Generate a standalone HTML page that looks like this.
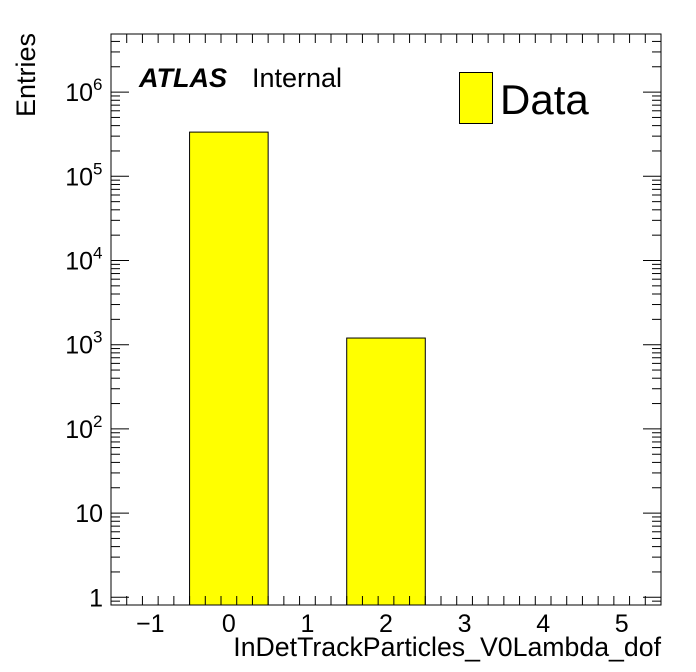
<!DOCTYPE html>
<html><head><meta charset="utf-8"><style>
html,body{margin:0;padding:0;background:#fff;}
svg{display:block;font-family:"Liberation Sans",Arial,sans-serif;}
</style></head><body>
<svg id="chart" width="696" height="672" viewBox="0 0 696 672" xmlns="http://www.w3.org/2000/svg">
<rect x="0" y="0" width="696" height="672" fill="#fff"/>
<g id="bars"></g>
<g id="ticks"></g>
<rect x="111" y="34" width="550" height="571" fill="none" stroke="#000" stroke-width="1"/>
<g id="labels" font-size="25"></g>
<text transform="translate(35,117) rotate(-90)" font-size="27">Entries</text>
<text x="661" y="656" text-anchor="end" font-size="26.7">InDetTrackParticles_V0Lambda_dof</text>
<text x="139" y="87" font-size="27" font-weight="bold" font-style="italic">ATLAS</text>
<text x="252" y="87" font-size="27">Internal</text>
<rect x="459.5" y="72.5" width="33" height="51" fill="#ffff00" stroke="#000"/>
<text x="500" y="114" font-size="42">Data</text>
</svg>
<script>
const categories = [0, 1, 2, 3, 4, 5];
const values = [335000, 0, 1200, 0, 0, 0];
const xTickLabels = [-1, 0, 1, 2, 3, 4, 5];
const yDecades = [0, 1, 2, 3, 4, 5, 6];

const L=111,R=661,T=34,B=605;
const xMin=-1.5,xMax=5.5;
const yMinLog=Math.log10(0.81),yMaxLog=Math.log10(4.9e6);
const NS='http://www.w3.org/2000/svg';
function xs(v){return L+(v-xMin)/(xMax-xMin)*(R-L);}
function ys(v){return B-(Math.log10(v)-yMinLog)/(yMaxLog-yMinLog)*(B-T);}
function mk(tag,attrs,parent){const e=document.createElementNS(NS,tag);for(const k in attrs)e.setAttribute(k,attrs[k]);parent.appendChild(e);return e;}

const gb=document.getElementById('bars');
categories.forEach((c,i)=>{
  if(values[i]<=0)return;
  const y=ys(values[i]);
  const r=mk('rect',{x:xs(c-0.5),y:y,width:xs(c+0.5)-xs(c-0.5),height:B-y,fill:'#ffff00',stroke:'#000','stroke-width':1},gb);
  
  
});

const gt=document.getElementById('ticks');
function line(x1,y1,x2,y2){mk('line',{x1:x1,y1:y1,x2:x2,y2:y2,stroke:'#000','stroke-width':1},gt);}
for(let k=-15;k<=55;k+=2){
  const v=k/10;
  const x=xs(v);
  const major=Math.abs(v-Math.round(v))<1e-9;
  const len=major?17:9;
  line(x,B,x,B-len);line(x,T,x,T+len);
}
for(let d=-1;d<=6;d++){
  for(let m=1;m<=9;m++){
    const v=m*Math.pow(10,d);
    if(Math.log10(v)<yMinLog||Math.log10(v)>yMaxLog)continue;
    const y=ys(v);
    const len=m===1?18:9;
    line(L,y,L+len,y);line(R,y,R-len,y);
  }
}

const gl=document.getElementById('labels');
xTickLabels.forEach(v=>{
  const t=mk('text',{x:xs(v),y:632,'text-anchor':'middle'},gl);
  t.textContent=v<0?'\u2212'+Math.abs(v):String(v);
  
  
});
yDecades.forEach(d=>{
  const y=ys(Math.pow(10,d));
  const t=mk('text',{x:d>=2?93:103,y:y+9,'text-anchor':'end'},gl);
  
  
  if(d===0)t.textContent='1';
  else if(d===1)t.textContent='10';
  else{
    t.textContent='10';
    const s=mk('text',{x:93,y:y-2,'font-size':17},gl);
    s.textContent=String(d);
    
    
  }
});
</script>
</body></html>
